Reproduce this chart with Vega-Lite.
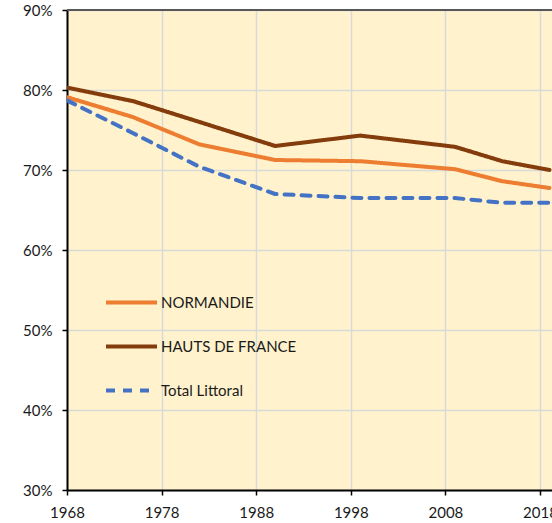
{
  "$schema": "https://vega.github.io/schema/vega-lite/v6.json",
  "autosize": {"type": "none"},
  "width": 485,
  "height": 480,
  "padding": {"left": 67, "top": 10, "right": 0, "bottom": 33},
  "background": "white",
  "config": {
    "view": {"fill": "#FFF2CC", "stroke": null},
    "font": "Lato"
  },
  "data": {
    "values": [
      {"annee": 1968, "serie": "NORMANDIE", "part": 0.791},
      {"annee": 1975, "serie": "NORMANDIE", "part": 0.766},
      {"annee": 1982, "serie": "NORMANDIE", "part": 0.732},
      {"annee": 1990, "serie": "NORMANDIE", "part": 0.7125},
      {"annee": 1999, "serie": "NORMANDIE", "part": 0.711},
      {"annee": 2009, "serie": "NORMANDIE", "part": 0.701},
      {"annee": 2014, "serie": "NORMANDIE", "part": 0.686},
      {"annee": 2019, "serie": "NORMANDIE", "part": 0.6775},
      {"annee": 1968, "serie": "HAUTS DE FRANCE", "part": 0.803},
      {"annee": 1975, "serie": "HAUTS DE FRANCE", "part": 0.786},
      {"annee": 1982, "serie": "HAUTS DE FRANCE", "part": 0.760},
      {"annee": 1990, "serie": "HAUTS DE FRANCE", "part": 0.730},
      {"annee": 1999, "serie": "HAUTS DE FRANCE", "part": 0.743},
      {"annee": 2009, "serie": "HAUTS DE FRANCE", "part": 0.729},
      {"annee": 2014, "serie": "HAUTS DE FRANCE", "part": 0.711},
      {"annee": 2019, "serie": "HAUTS DE FRANCE", "part": 0.700},
      {"annee": 1968, "serie": "Total Littoral", "part": 0.787},
      {"annee": 1975, "serie": "Total Littoral", "part": 0.746},
      {"annee": 1982, "serie": "Total Littoral", "part": 0.704},
      {"annee": 1990, "serie": "Total Littoral", "part": 0.670},
      {"annee": 1999, "serie": "Total Littoral", "part": 0.665},
      {"annee": 2009, "serie": "Total Littoral", "part": 0.665},
      {"annee": 2014, "serie": "Total Littoral", "part": 0.659},
      {"annee": 2019, "serie": "Total Littoral", "part": 0.659}
    ]
  },
  "layer": [
    {
      "mark": {"type": "line", "strokeWidth": 4, "strokeCap": "round", "strokeJoin": "round", "clip": true},
      "encoding": {
        "x": {
          "field": "annee", "type": "quantitative",
          "scale": {"domain": [1968, 2019.27], "nice": false, "zero": false},
          "axis": {
            "title": null, "values": [1968, 1978, 1988, 1998, 2008, 2018], "format": "d",
            "domainColor": "#000000", "domainWidth": 2, "tickColor": "#000000", "tickWidth": 1.5, "tickSize": 5,
            "labelFontSize": 15, "labelColor": "#1A1A1A", "labelPadding": 10, "labelFlush": false,
            "grid": true, "gridColor": "#D9D9D9", "gridWidth": 1.5
          }
        },
        "y": {
          "field": "part", "type": "quantitative",
          "scale": {"domain": [0.3, 0.9], "nice": false, "zero": false},
          "axis": {
            "title": null, "values": [0.3, 0.4, 0.5, 0.6, 0.7, 0.8, 0.9], "format": ".0%",
            "domainColor": "#000000", "domainWidth": 2, "tickColor": "#000000", "tickWidth": 1.5, "tickSize": 5,
            "labelFontSize": 15, "labelColor": "#1A1A1A", "labelPadding": 10,
            "grid": true, "gridColor": "#D9D9D9", "gridWidth": 1.5
          }
        },
        "color": {
          "field": "serie", "type": "nominal",
          "scale": {"domain": ["NORMANDIE", "HAUTS DE FRANCE", "Total Littoral"], "range": ["#ED7D31", "#843C0C", "#4472C4"]},
          "legend": {
            "title": null, "orient": "none", "legendX": 37, "legendY": 265,
            "symbolType": "stroke", "symbolSize": 2601, "symbolStrokeWidth": 4,
            "labelFontSize": 15, "labelColor": "#1A1A1A", "labelOffset": 2,
            "rowPadding": 8, "padding": 0
          }
        },
        "strokeDash": {
          "field": "serie", "type": "nominal",
          "scale": {"domain": ["NORMANDIE", "HAUTS DE FRANCE", "Total Littoral"], "range": [[1, 0], [1, 0], [9, 8]]},
          "legend": {
            "title": null, "orient": "none", "legendX": 37, "legendY": 265,
            "symbolType": "stroke", "symbolSize": 2601, "symbolStrokeWidth": 4,
            "labelFontSize": 15, "labelColor": "#1A1A1A", "labelOffset": 2,
            "rowPadding": 8, "padding": 0
          }
        }
      }
    },
    {
      "mark": {"type": "rule", "color": "#595959", "strokeWidth": 1.5},
      "encoding": {"y": {"datum": 0.9}}
    }
  ]
}
